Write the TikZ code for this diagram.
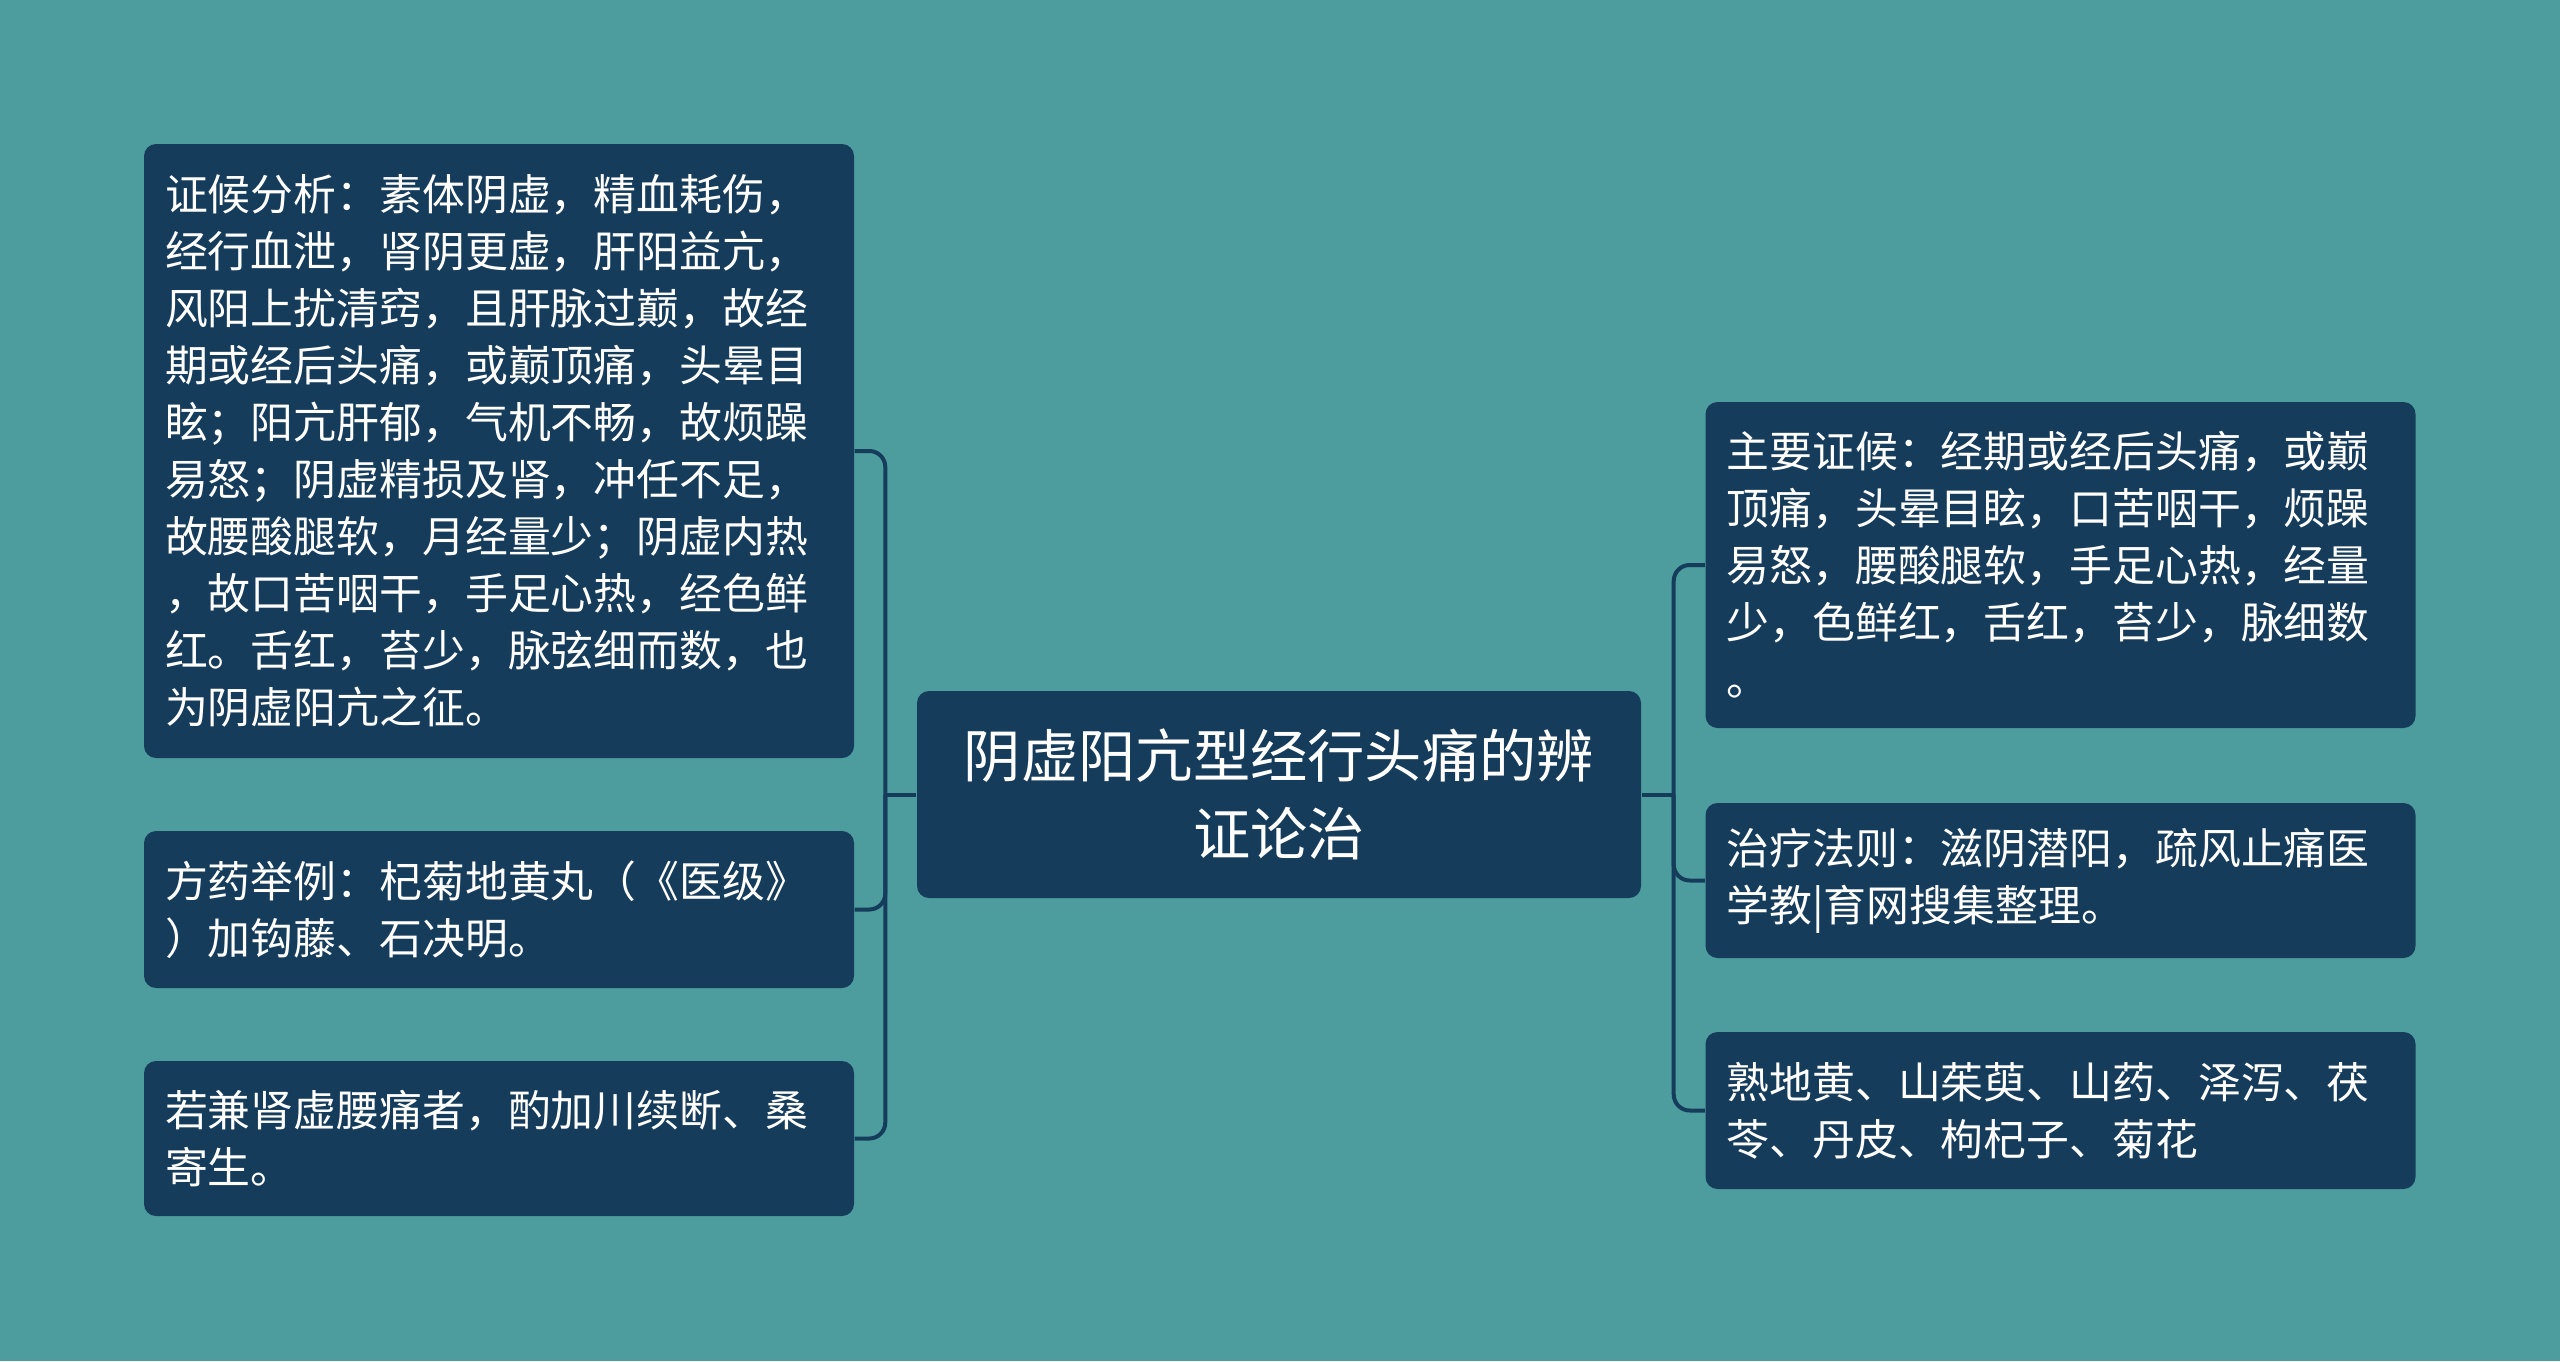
\documentclass[tikz,border=0pt]{standalone}
\usepackage{fontspec}
\newfontfamily\cjkfont{Noto Sans CJK SC}
\usetikzlibrary{calc}
\definecolor{bgteal}{RGB}{78,157,158}
\definecolor{boxnavy}{RGB}{22,60,92}
\tikzset{
	topic/.style={fill=boxnavy, rounded corners=1.2mm, text=white, align=center,
		inner xsep=2mm, inner ysep=2mm, text width=68.4mm, minimum height=20.7mm,
		font=\cjkfont\fontsize{16.3pt}{22.2pt}\selectfont},
	leaf/.style={fill=boxnavy, rounded corners=1.2mm, text=white, align=left,
		inner xsep=2.1mm, inner ysep=2mm, text width=66.8mm,
		font=\cjkfont\fontsize{12.2pt}{16.2pt}\selectfont},
	link/.style={draw=boxnavy, line width=0.4mm, rounded corners=1.6mm}
}
\begin{document}
\begin{tikzpicture}
	% canvas: 2560 x 1361 px, 1 unit = 100 px
	\fill[bgteal] (0,0) rectangle (25.6,13.61);
	\useasboundingbox (0,0) rectangle (25.6,13.61);
	% central topic
	\node[topic] (c) at (12.79,5.665) {阴虚阳亢型经行头痛的辨\\证论治};
	% left branches
	\node[leaf, minimum height=61.4mm] (l1) at (4.99,9.10) {证候分析：素体阴虚，精血耗伤，\\经行血泄，肾阴更虚，肝阳益亢，\\风阳上扰清窍，且肝脉过巅，故经\\期或经后头痛，或巅顶痛，头晕目\\眩；阳亢肝郁，气机不畅，故烦躁\\易怒；阴虚精损及肾，冲任不足，\\故腰酸腿软，月经量少；阴虚内热\\，故口苦咽干，手足心热，经色鲜\\红。舌红，苔少，脉弦细而数，也\\为阴虚阳亢之征。};
	\node[leaf, minimum height=15.7mm] (l2) at (4.99,4.515) {方药举例：杞菊地黄丸（《医级》\\）加钩藤、石决明。};
	\node[leaf, minimum height=15.5mm] (l3) at (4.99,2.225) {若兼肾虚腰痛者，酌加川续断、桑\\寄生。};
	% right branches
	\node[leaf, minimum height=32.6mm] (r1) at (20.605,7.96) {主要证候：经期或经后头痛，或巅\\顶痛，头晕目眩，口苦咽干，烦躁\\易怒，腰酸腿软，手足心热，经量\\少，色鲜红，舌红，苔少，脉细数\\。};
	\node[leaf, minimum height=15.5mm] (r2) at (20.605,4.805) {治疗法则：滋阴潜阳，疏风止痛医\\学教|育网搜集整理。};
	\node[leaf, minimum height=15.7mm] (r3) at (20.605,2.505) {熟地黄、山茱萸、山药、泽泻、茯\\苓、丹皮、枸杞子、菊花};
	% junctions
	\coordinate (lj) at ($(c.west)+(-0.31,0)$);
	\coordinate (rj) at ($(c.east)+(0.32,0)$);
	% connectors - left
	\draw[link] (c.west) -- (lj);
	\draw[link] (l1.east) -| (lj) |- (l3.east);
	\draw[link] (l2.east) -| (lj);
	% connectors - right
	\draw[link] (c.east) -- (rj);
	\draw[link] (r1.west) -| (rj) |- (r3.west);
	\draw[link] (r2.west) -| (rj);
\end{tikzpicture}
\end{document}
